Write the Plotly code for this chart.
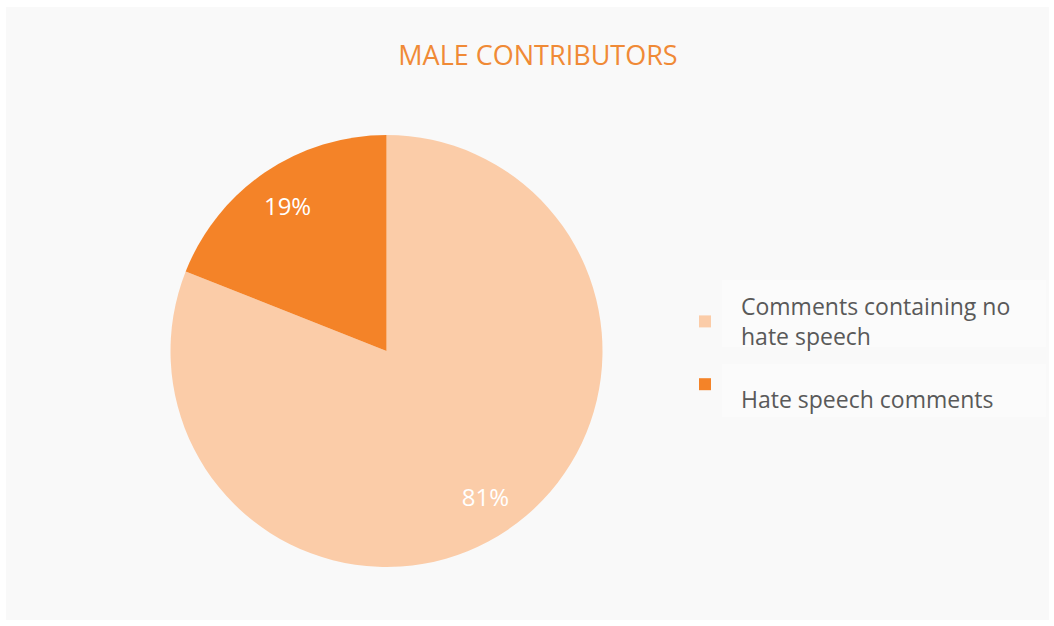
import plotly.graph_objects as go

# Share of comments by male contributors
categories = ["Comments containing no<br>hate speech", "<br>Hate speech comments"]
shares = [81, 19]
slice_colors = ["#FBCCA8", "#F48328"]

W, H = 1054, 626
pie_domain = dict(x=[170 / W, 603 / W], y=[1 - 567 / H, 1 - 135 / H])

fig = go.Figure()

# filled slices
fig.add_trace(
    go.Pie(
        labels=categories,
        values=shares,
        sort=False,
        direction="clockwise",
        rotation=0,
        marker=dict(colors=slice_colors, line=dict(width=0)),
        textinfo="none",
        domain=pie_domain,
        hoverinfo="percent",
    )
)

# percentage labels sitting out towards the rim of each slice
fig.add_trace(
    go.Pie(
        labels=categories,
        values=shares,
        sort=False,
        direction="clockwise",
        rotation=0,
        hole=0.63,
        marker=dict(colors=["rgba(0,0,0,0)"] * 2, line=dict(width=0)),
        texttemplate="%{percent:.0%}",
        textposition="inside",
        insidetextorientation="horizontal",
        textfont=dict(family="Open Sans", size=24, color="white"),
        domain=pie_domain,
        showlegend=False,
        hoverinfo="skip",
    )
)

# light grey chart panel
fig.add_shape(
    type="rect", xref="paper", yref="paper",
    x0=6 / W, x1=1049 / W, y0=1 - 620 / H, y1=1 - 7 / H,
    fillcolor="#F9F9F9", line=dict(width=0), layer="below",
)
# faint text boxes behind the legend entries
for top, bottom in [(280, 347), (364, 417)]:
    fig.add_shape(
        type="rect", xref="paper", yref="paper",
        x0=722 / W, x1=1046 / W, y0=1 - bottom / H, y1=1 - top / H,
        fillcolor="#FBFBFB", line=dict(width=0), layer="below",
    )

fig.update_layout(
    width=W, height=H,
    margin=dict(l=0, r=0, t=0, b=0),
    paper_bgcolor="white",
    plot_bgcolor="white",
    title=dict(
        text="MALE CONTRIBUTORS",
        x=538 / W, xanchor="center",
        y=1 - 56 / H, yanchor="middle",
        font=dict(family="Open Sans", size=27, color="#F08A36"),
    ),
    showlegend=True,
    legend=dict(
        x=669 / W, xanchor="left",
        y=1 - 285 / H, yanchor="top",
        bgcolor="rgba(0,0,0,0)",
        font=dict(family="Open Sans", size=23, color="#595959"),
        itemwidth=62,
    ),
)

fig.write_html("out.html")
